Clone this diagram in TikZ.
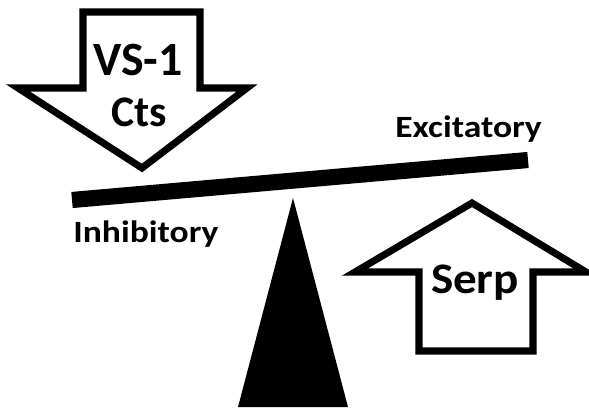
\documentclass[tikz,border=0pt]{standalone}
\usepackage{fontspec}
\setmainfont{Carlito}
\usepackage{xcolor}
\usetikzlibrary{positioning}

\begin{document}
\begin{tikzpicture}[
            x = 0.025cm, y = -0.025cm, % one unit is one pixel of the layout
            line join = miter,
            arrowshape/.style = {draw = black, fill = white, line width = 5pt},
            beam/.style = {line width = 11.5pt},
            label/.style = {inner sep = 0pt, anchor = base}
        ]

        \useasboundingbox (0, 0) rectangle (589, 412);

        % down arrow on the inhibitory side
        \draw[arrowshape] (83, 12) -- (200, 12) -- (200, 88) -- (247, 88) -- (142, 168)
            -- (18, 88) -- (83, 88) -- cycle;
        \node[label, font = \bfseries\fontsize{34}{40}\selectfont] (vs) [at={(138, 76)}] {VS-1};
        \node[label, font = \bfseries\fontsize{31}{40}\selectfont] (cts) [at={(139, 127)}] {Cts};

        % up arrow on the excitatory side
        \draw[arrowshape] (472, 203) -- (586, 272) -- (533, 272) -- (533, 351) -- (419, 351)
            -- (419, 272) -- (355, 272) -- cycle;
        \node[label, xscale = 1.08, font = \bfseries\fontsize{31}{40}\selectfont] (serp) [at={(475, 293)}] {Serp};

        % beam and pivot
        \coordinate (beamL) at (72, 200);
        \coordinate (beamR) at (528, 160);
        \draw[beam] (beamL) -- (beamR);
        \fill (293, 198) -- (348, 407) -- (238, 407) -- cycle;

        \node[label, anchor = base west, xscale = 1.15, font = \bfseries\fontsize{22}{24}\selectfont] (inh) [at={(73, 242)}] {Inhibitory};
        \node[label, anchor = base west, xscale = 1.15, font = \bfseries\fontsize{22}{24}\selectfont] (exc) [at={(395, 138)}] {Excitatory};
    \end{tikzpicture}
\end{document}
